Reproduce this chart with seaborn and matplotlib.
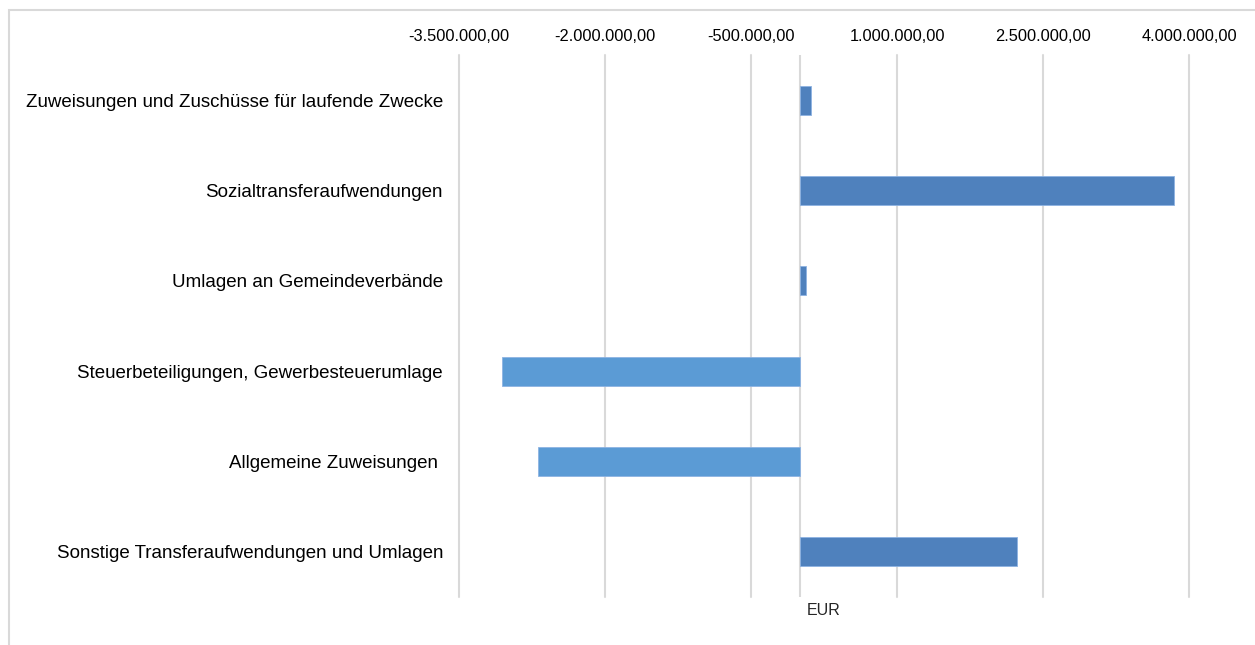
import matplotlib
matplotlib.use("Agg")
import matplotlib.pyplot as plt
from matplotlib.patches import Rectangle
from matplotlib.ticker import FuncFormatter
import seaborn as sns
import pandas as pd

categories = [
    "Zuweisungen und Zuschüsse für laufende Zwecke",
    "Sozialtransferaufwendungen",
    "Umlagen an Gemeindeverbände",
    "Steuerbeteiligungen, Gewerbesteuerumlage",
    "Allgemeine Zuweisungen ",
    "Sonstige Transferaufwendungen und Umlagen",
]
values = [115000, 3850000, 60000, -3060000, -2690000, 2230000]
tick_values = [-3500000, -2000000, -500000, 1000000, 2500000, 4000000]

POS_COLOR = "#4f81bd"
NEG_COLOR = "#5b9bd5"
GRID_COLOR = "#d9d9d9"

df = pd.DataFrame({"Kategorie": categories, "Wert": values})
palette = {c: (POS_COLOR if v >= 0 else NEG_COLOR) for c, v in zip(categories, values)}

sns.set_style("white")
plt.rcParams["font.family"] = ["Liberation Sans", "DejaVu Sans"]

fig = plt.figure(figsize=(12.55, 6.45), dpi=100)
ax = fig.add_axes([459 / 1255, 1 - 597 / 645, 730 / 1255, 542 / 645])

sns.barplot(data=df, x="Wert", y="Kategorie", hue="Kategorie", palette=palette,
            orient="h", width=0.32, dodge=False, legend=False, ax=ax,
            edgecolor="#8db3e2", linewidth=0.6, saturation=1)

ax.set_xlim(tick_values[0], tick_values[-1])
ax.set_ylim(5.5, -0.5)
ax.set_xticks(tick_values)


def de_format(v, pos):
    s = f"{v:,.2f}"
    return s.replace(",", "X").replace(".", ",").replace("X", ".")


ax.xaxis.set_major_formatter(FuncFormatter(de_format))
ax.xaxis.tick_top()
ax.xaxis.set_label_position("bottom")
ax.tick_params(axis="x", length=0, pad=8, labelsize=11.8, colors="#000000")
ax.tick_params(axis="y", length=0, pad=11.5, labelsize=13.5, colors="#000000")
ax.grid(axis="x", color=GRID_COLOR, linewidth=1.5)
ax.grid(axis="y", visible=False)
ax.set_axisbelow(True)
# edge gridlines would otherwise be cut in half by the axes clip
for gl in ax.get_xgridlines():
    gl.set_clip_on(False)
ax.axvline(0, color=GRID_COLOR, linewidth=1.5, zorder=0)
for s in ax.spines.values():
    s.set_visible(False)

ax.set_ylabel("")
ax.set_xlabel("EUR", fontsize=11.5, labelpad=4)

# outer chart border (only left and top visible in the crop)
fig.patches.append(Rectangle((9 / 1255, -0.2), 1.2, 1.2 - 10 / 645,
                             transform=fig.transFigure, fill=False,
                             edgecolor=GRID_COLOR, linewidth=1.5))

fig.savefig("out.png", dpi=100)
